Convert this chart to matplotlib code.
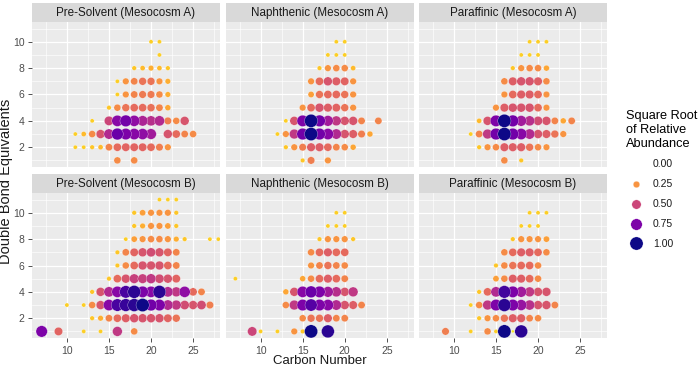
import numpy as np
import matplotlib
matplotlib.use("Agg")
import matplotlib.pyplot as plt
from matplotlib.lines import Line2D

plt.rcParams['font.family'] = ['Liberation Sans', 'DejaVu Sans']

# square root of relative abundance, per DBE row: (first carbon number, values), 0 = no point
pre_solvent_a = {
    10: (20, [0.1, 0.1]),
    9: (21, [0.1]),
    8: (18, [0.12, 0.15, 0.18, 0.15, 0.12]),
    7: (16, [0.1, 0.25, 0.3, 0.35, 0.35, 0.25, 0.18]),
    6: (16, [0.1, 0.25, 0.3, 0.33, 0.33, 0.28, 0.18]),
    5: (15, [0.12, 0.28, 0.35, 0.38, 0.38, 0.36, 0.3, 0.2]),
    4: (13, [0.1, 0, 0.5, 0.72, 0.78, 0.7, 0.62, 0.58, 0.6, 0.32, 0.28, 0.45]),
    3: (11, [0.1, 0.15, 0.28, 0.45, 0.6, 0.8, 0.75, 0.72, 0.7, 0.65, 0, 0.45, 0.38, 0.3, 0.28]),
    2: (11, [0.1, 0.1, 0.12, 0.15, 0.3, 0.38, 0.4, 0.4, 0.4, 0.38, 0.32, 0.25]),
    1: (16, [0.28, 0, 0.28]),
}
naphthenic_a = {
    10: (19, [0.1, 0.1]),
    9: (18, [0.1, 0.1, 0.1]),
    8: (17, [0.12, 0.25, 0.28, 0.28, 0.15]),
    7: (16, [0.25, 0.38, 0.45, 0.42, 0.4, 0.25]),
    6: (16, [0.22, 0.35, 0.38, 0.38, 0.35, 0.25]),
    5: (15, [0.25, 0.38, 0.45, 0.42, 0.4, 0.35, 0.25]),
    4: (13, [0.1, 0.45, 0.75, 1.0, 0.78, 0.65, 0.55, 0.45, 0.45, 0.3, 0, 0.3]),
    3: (12, [0.1, 0.25, 0.55, 0.78, 1.0, 0.78, 0.72, 0.6, 0.45, 0.42, 0.32, 0.2]),
    2: (13, [0.12, 0.25, 0.32, 0.42, 0.42, 0.38, 0.3, 0.28, 0.2]),
    1: (15, [0.12, 0.32, 0, 0.25]),
}
paraffinic_a = {
    10: (19, [0.1, 0.1, 0.1]),
    9: (18, [0.1, 0.1, 0.1]),
    8: (17, [0.12, 0.25, 0.28, 0.28, 0.2]),
    7: (16, [0.28, 0.42, 0.45, 0.45, 0.42, 0.28]),
    6: (16, [0.25, 0.38, 0.42, 0.42, 0.38, 0.25]),
    5: (15, [0.25, 0.42, 0.45, 0.45, 0.45, 0.38, 0.25]),
    4: (13, [0.15, 0.45, 0.75, 1.0, 0.78, 0.65, 0.58, 0.48, 0.45, 0.3, 0.2, 0.3]),
    3: (12, [0.1, 0.3, 0.55, 0.78, 1.0, 0.78, 0.72, 0.6, 0.45, 0.42, 0.35, 0.25]),
    2: (13, [0.12, 0.25, 0.28, 0.42, 0.42, 0.42, 0.35, 0.28, 0.25]),
    1: (16, [0.28, 0, 0.12]),
}
pre_solvent_b = {
    11: (21, [0.1, 0.1, 0.1]),
    10: (18, [0.12, 0.22, 0.25, 0.25, 0.25, 0.12]),
    9: (18, [0.12, 0.18, 0.25, 0.25, 0.22, 0.12]),
    8: (17, [0.1, 0.22, 0.25, 0.28, 0.28, 0.25, 0.18, 0.12, 0, 0, 0.1, 0.1]),
    7: (16, [0.12, 0.3, 0.4, 0.45, 0.48, 0.45, 0.4, 0.3]),
    6: (16, [0.12, 0.28, 0.38, 0.45, 0.45, 0.45, 0.38, 0.3]),
    5: (15, [0.12, 0.38, 0.45, 0.52, 0.52, 0.55, 0.48, 0.45, 0.4]),
    4: (13, [0.12, 0.45, 0.6, 0.72, 0.88, 0.95, 0.75, 0.72, 0.95, 0.6, 0.55, 0.7, 0.38, 0.3]),
    3: (10, [0.1, 0, 0.1, 0.28, 0.45, 0.72, 0.88, 0.92, 0.95, 1.0, 0.78, 0.75, 0.6, 0.55,
             0.48, 0.45, 0.48, 0.32]),
    2: (13, [0.12, 0.18, 0.3, 0.38, 0.42, 0.45, 0.45, 0.45, 0.45, 0.4, 0.35]),
    1: (7, [0.75, 0, 0.4, 0, 0, 0.1, 0, 0.1, 0, 0.55, 0, 0.28]),
}
naphthenic_b = {
    10: (19, [0.1, 0.1]),
    9: (18, [0.1, 0.1, 0.1]),
    8: (17, [0.12, 0.25, 0.25, 0.25, 0.12]),
    7: (16, [0.28, 0.38, 0.42, 0.38, 0.38]),
    6: (16, [0.25, 0.3, 0.35, 0.3, 0.28]),
    5: (7, [0.1, 0, 0, 0, 0, 0, 0, 0, 0.2, 0.28, 0.38, 0.42, 0.38, 0.3]),
    4: (13, [0.2, 0.45, 0.72, 0.8, 0.75, 0.65, 0.58, 0.45, 0.55]),
    3: (13, [0.28, 0.55, 0.75, 0.85, 0.75, 0.72, 0.6, 0.45, 0.42, 0.3]),
    2: (15, [0.28, 0.35, 0.35, 0.42, 0.3, 0.3]),
    1: (9, [0.5, 0.1, 0, 0.1, 0, 0.25, 0.12, 1.0, 0, 0.95]),
}
paraffinic_b = {
    10: (19, [0.1, 0.1, 0.1]),
    9: (18, [0.1, 0.1, 0.1]),
    8: (17, [0.12, 0.25, 0.25, 0.25, 0.22]),
    7: (16, [0.28, 0.38, 0.42, 0.42, 0.38, 0.28]),
    6: (15, [0.12, 0.28, 0.35, 0.38, 0.38, 0.28]),
    5: (15, [0.22, 0.28, 0.42, 0.42, 0.38, 0.28]),
    4: (13, [0.12, 0.38, 0.6, 0.9, 0.75, 0.65, 0.55, 0.45, 0.45]),
    3: (12, [0.1, 0.28, 0.55, 0.75, 0.95, 0.75, 0.68, 0.58, 0.45, 0.45, 0.3]),
    2: (13, [0.12, 0.25, 0.28, 0.35, 0.42, 0.42, 0.3, 0.28]),
    1: (9, [0.32, 0, 0, 0.1, 0, 0.28, 0.1, 1.0, 0.05, 0.95]),
}

panel_titles = ["Pre-Solvent (Mesocosm A)", "Naphthenic (Mesocosm A)", "Paraffinic (Mesocosm A)",
                "Pre-Solvent (Mesocosm B)", "Naphthenic (Mesocosm B)", "Paraffinic (Mesocosm B)"]
panel_data = [pre_solvent_a, naphthenic_a, paraffinic_a, pre_solvent_b, naphthenic_b, paraffinic_b]
legend_values = [0.0, 0.25, 0.5, 0.75, 1.0]

cmap = plt.get_cmap("plasma_r")
S_MAX = 90  # marker area (pt^2) for value 1.0


def expand(rows):
    cs, ds, vs = [], [], []
    for dbe, (c0, vals) in rows.items():
        for i, v in enumerate(vals):
            if v > 0:
                cs.append(c0 + i)
                ds.append(dbe)
                vs.append(v)
    cs, ds, vs = np.array(cs), np.array(ds), np.array(vs)
    order = np.argsort(vs)
    return cs[order], ds[order], vs[order]


W, H = 700, 367
fig = plt.figure(figsize=(W / 100, H / 100), dpi=100)
col_left = [32, 225.7, 419]
row_top = [22, 193]
pw, ph, sh = 188, 145, 19

for idx, (title, rows) in enumerate(zip(panel_titles, panel_data)):
    r, c = divmod(idx, 3)
    ax = fig.add_axes([col_left[c] / W, 1 - (row_top[r] + ph) / H, pw / W, ph / H])
    ax.set_facecolor("#EBEBEB")
    cs, ds, vs = expand(rows)
    ax.scatter(cs, ds, s=vs * S_MAX, c=cmap(vs), edgecolors="white", linewidths=0.2,
               zorder=3)
    ax.set_xlim(5.85, 28.2)
    ax.set_ylim(0.5, 11.5)
    ax.set_xticks([10, 15, 20, 25])
    ax.set_xticks([7.5, 12.5, 17.5, 22.5, 27.5], minor=True)
    ax.set_yticks([2, 4, 6, 8, 10])
    ax.set_yticks([1, 3, 5, 7, 9, 11], minor=True)
    ax.grid(which="major", color="white", lw=0.9)
    ax.grid(which="minor", color="white", lw=0.45)
    ax.set_axisbelow(True)
    for sp in ax.spines.values():
        sp.set_visible(False)
    ax.tick_params(which="major", length=3, width=0.6, color="#333333",
                   labelcolor="#4D4D4D", labelsize=7.5, pad=2.5)
    ax.tick_params(which="minor", length=0)
    if r == 0:
        ax.tick_params(axis="x", length=0, labelbottom=False)
    if c != 0:
        ax.tick_params(axis="y", length=0, labelleft=False)

    sax = fig.add_axes([col_left[c] / W, 1 - row_top[r] / H, pw / W, sh / H])
    sax.set_facecolor("#D9D9D9")
    sax.set_xticks([])
    sax.set_yticks([])
    for sp in sax.spines.values():
        sp.set_visible(False)
    sax.text(0.5, 0.45, title, ha="center", va="center", fontsize=8.4, color="#1A1A1A",
             transform=sax.transAxes)

fig.text((32 + 607) / 2 / W, 1 - 361 / H, "Carbon Number", ha="center", va="center",
         fontsize=9.5, color="#1A1A1A")
fig.text(6 / W, 1 - 181 / H, "Double Bond Equivalents", ha="center", va="center",
         rotation=90, fontsize=10.5, color="#1A1A1A")

handles = [Line2D([], [], ls="none", marker="o", markersize=np.sqrt(v * S_MAX) if v > 0 else 0,
                  markerfacecolor=cmap(v), markeredgecolor="white", markeredgewidth=0.2)
           for v in legend_values]
leg = fig.legend(handles, [f"{v:.2f}" for v in legend_values], loc="upper left",
                 bbox_to_anchor=(626 / W, 1 - 110 / H), frameon=False, fontsize=7.5,
                 title="Square Root\nof Relative\nAbundance", title_fontsize=9.2,
                 borderpad=0, borderaxespad=0, labelspacing=0.95, handletextpad=0.6,
                 alignment="left")
for t in leg.get_texts():
    t.set_color("#1A1A1A")

fig.savefig("out.png", dpi=100)
